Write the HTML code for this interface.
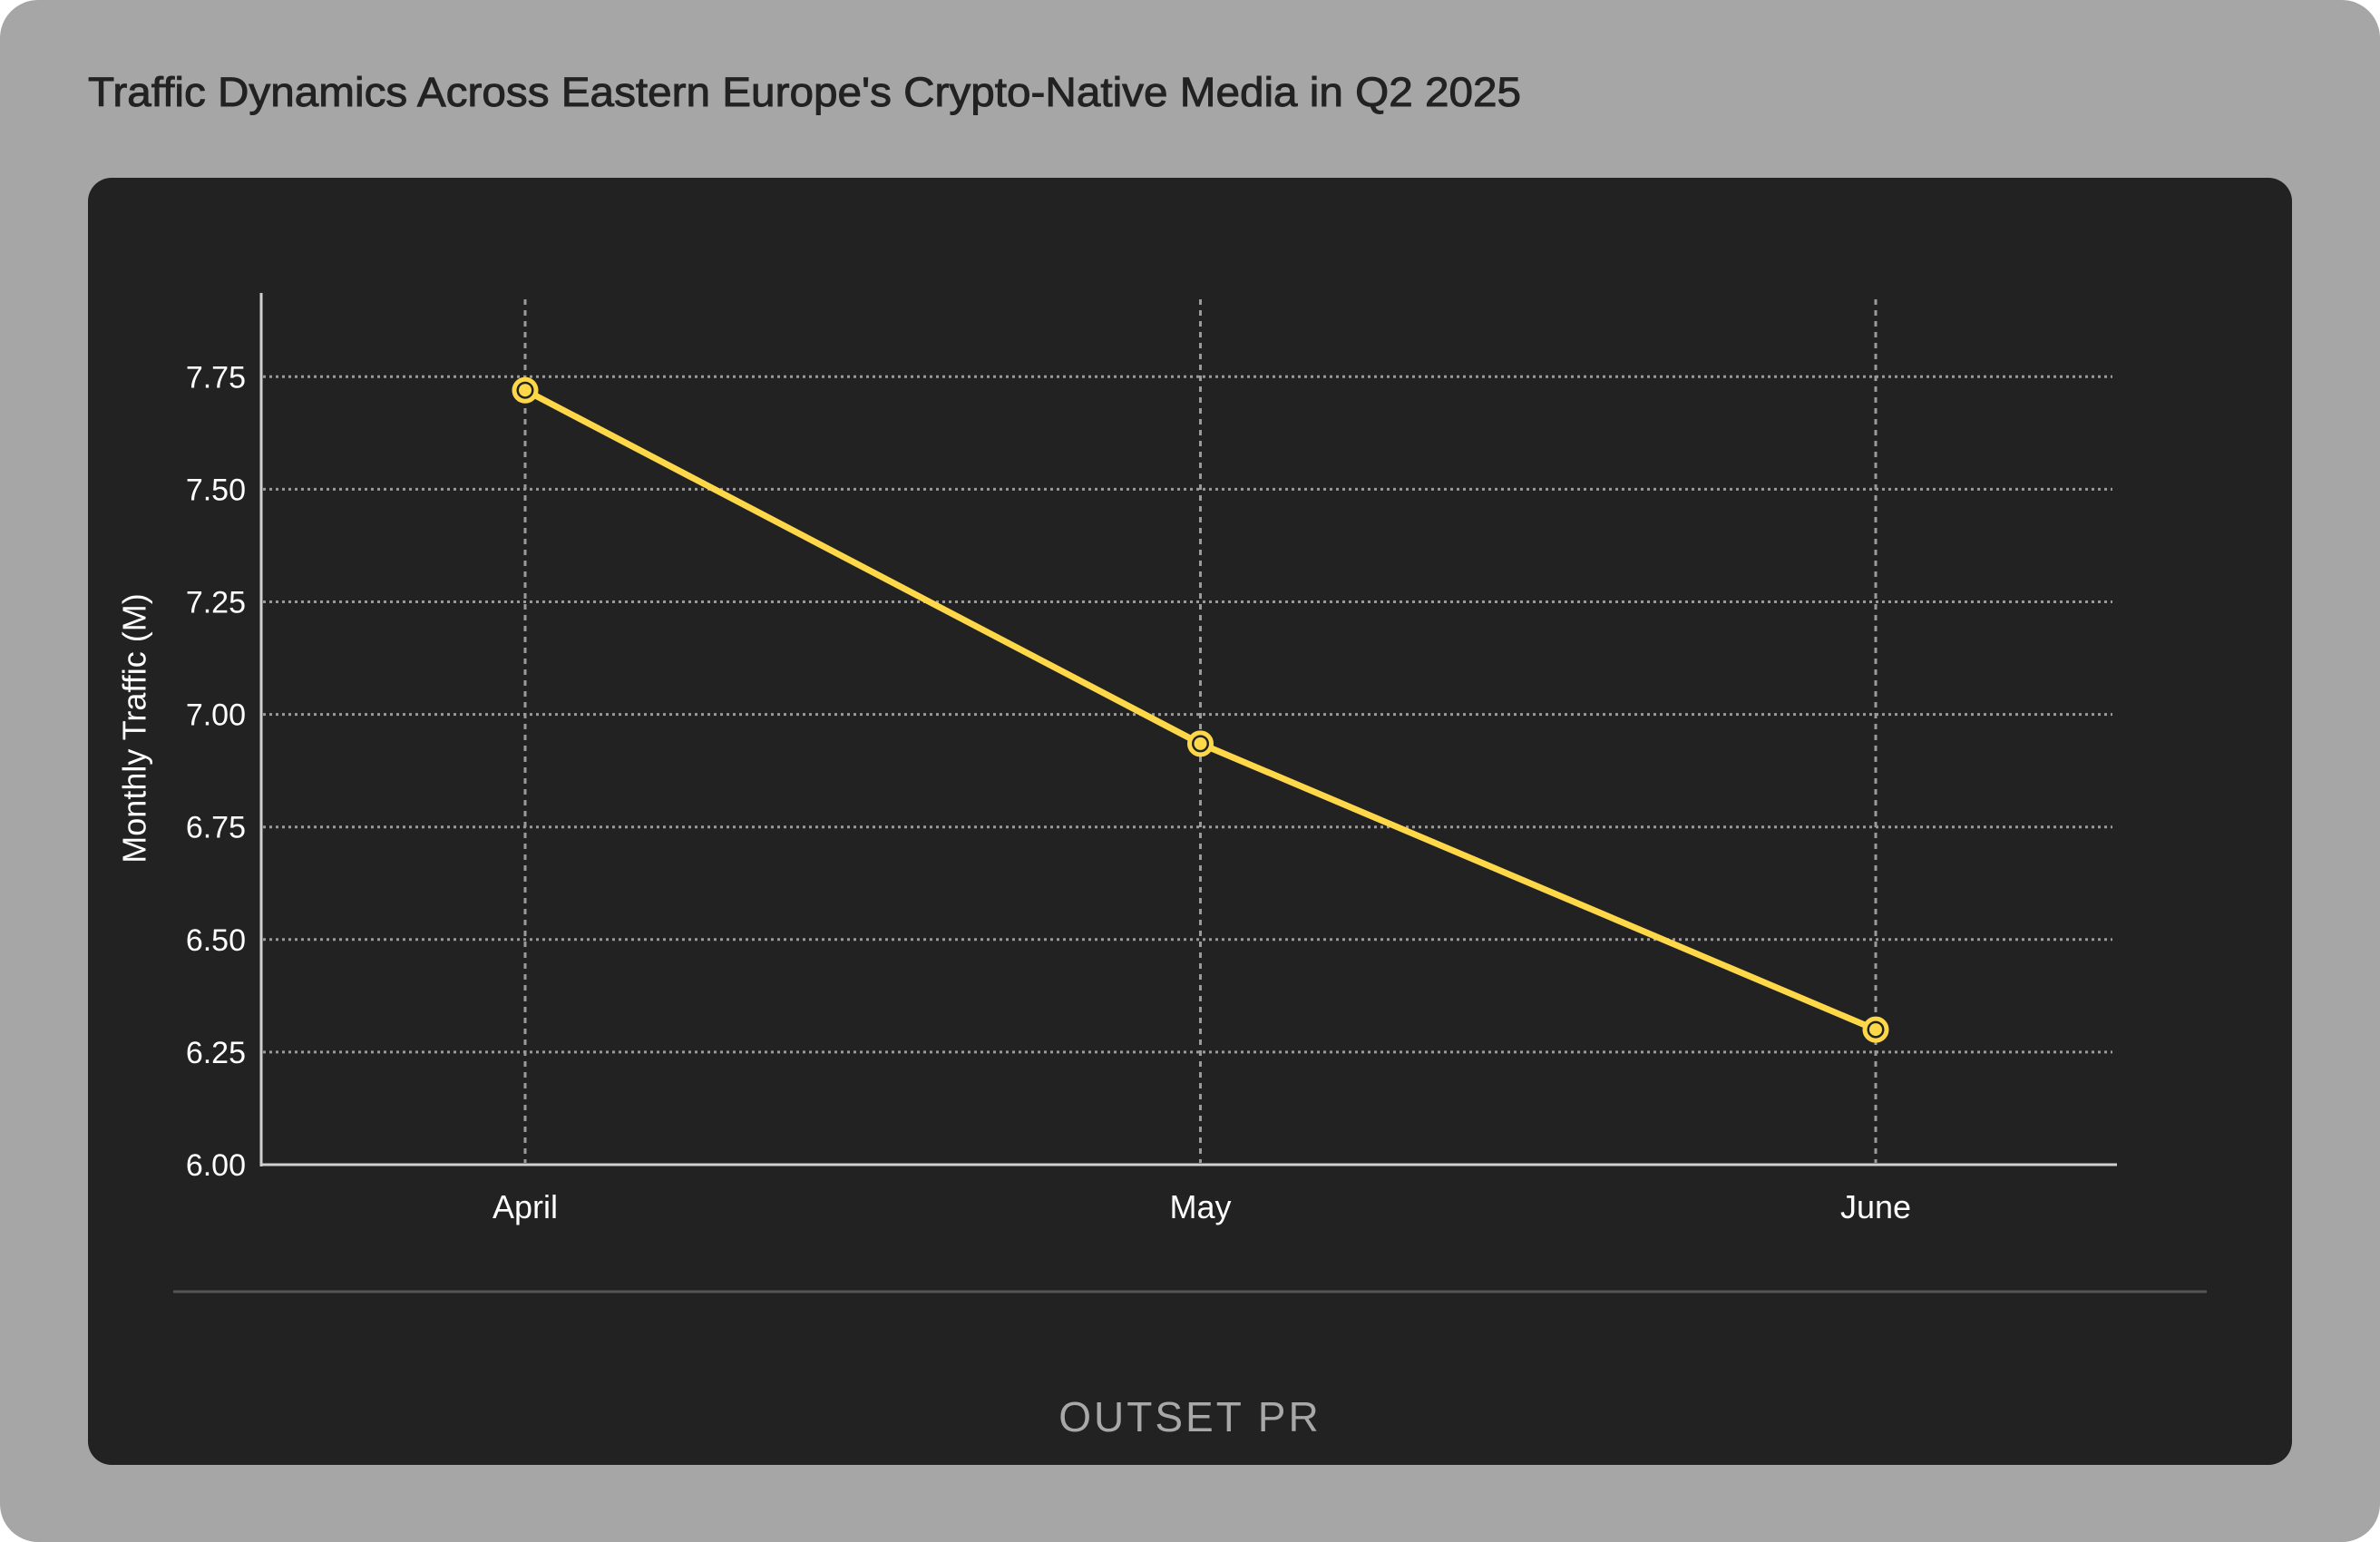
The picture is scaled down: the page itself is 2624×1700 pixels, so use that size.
<!DOCTYPE html>
<html><head><meta charset="utf-8"><style>
html,body{margin:0;padding:0;background:#fff;}
svg{display:block;font-family:"Liberation Sans",Arial,sans-serif;}
</style></head><body>
<svg id="chart" width="2624" height="1700" viewBox="0 0 2624 1700">
<rect x="0" y="0" width="2624" height="1700" rx="42" fill="#a6a6a6"/>
<text x="97" y="117" font-size="45" fill="#222" stroke="#222" stroke-width="0.9" textLength="1580" lengthAdjust="spacingAndGlyphs">Traffic Dynamics Across Eastern Europe's Crypto-Native Media in Q2 2025</text>
<rect x="97" y="196" width="2430" height="1419" rx="26" fill="#222222"/>
<g id="grid"></g>
<g id="axes"></g>
<g id="series"></g>
<text x="151" y="803" font-size="36" fill="#fff" text-anchor="middle" transform="rotate(-90 151 803)" dominant-baseline="middle">Monthly Traffic (M)</text>
<line x1="191" y1="1424" x2="2433" y2="1424" stroke="#555" stroke-width="3"/>
<text x="1312" y="1578" font-size="46" fill="#a8a8a8" text-anchor="middle" letter-spacing="3">OUTSET PR</text>
</svg>
<script>
const categories = ["April", "May", "June"];
const trafficValues = [7.72, 6.935, 6.30];
const yTickValues = [6.00, 6.25, 6.50, 6.75, 7.00, 7.25, 7.50, 7.75];
const yTickLabels = ["6.00", "6.25", "6.50", "6.75", "7.00", "7.25", "7.50", "7.75"];

const NS = "http://www.w3.org/2000/svg";
function xScale(i) { return 579 + i * (2068 - 579) / (categories.length - 1); }
function yScale(v) { return 1284 - (v - 6) * 496.4; }
function mk(tag, attrs, parent) {
  const e = document.createElementNS(NS, tag);
  for (const k in attrs) e.setAttribute(k, attrs[k]);
  parent.appendChild(e);
  return e;
}
const grid = document.getElementById("grid");
const axes = document.getElementById("axes");
const series = document.getElementById("series");

yTickValues.forEach((v, i) => {
  const y = yScale(v);
  if (i > 0) {
    const gl = mk("line", {x1: 290, x2: 2329, y1: y, y2: y, stroke: "#9a9a9a", "stroke-width": 3, "stroke-dasharray": "3 4"}, grid);
    
    
  }
  const t = mk("text", {x: 271, y: y + 12, "font-size": 34, fill: "#fff", "text-anchor": "end"}, axes);
  t.textContent = yTickLabels[i];
  
  
});
categories.forEach((c, i) => {
  const x = xScale(i);
  const vl = mk("line", {x1: x, x2: x, y1: 330, y2: 1282, stroke: "#9a9a9a", "stroke-width": 3, "stroke-dasharray": "6 6"}, grid);
  
  
  const t = mk("text", {x: x, y: 1343, "font-size": 36, fill: "#fff", "text-anchor": "middle"}, axes);
  t.textContent = c;
  
  
});
const ya = mk("line", {x1: 288, x2: 288, y1: 323, y2: 1286, stroke: "#d0d0d0", "stroke-width": 3}, axes);


const xa = mk("line", {x1: 287, x2: 2334, y1: 1284, y2: 1284, stroke: "#d0d0d0", "stroke-width": 3}, axes);



const pts = trafficValues.map((v, i) => xScale(i) + "," + yScale(v)).join(" ");
const pl = mk("polyline", {points: pts, fill: "none", stroke: "#ffd84a", "stroke-width": 7, "stroke-linejoin": "round"}, series);


trafficValues.forEach((v, i) => {
  const c = mk("circle", {cx: xScale(i), cy: yScale(v), r: 12, fill: "#222", stroke: "#ffd84a", "stroke-width": 5}, series);
  
  
  const d = mk("circle", {cx: xScale(i), cy: yScale(v), r: 7, fill: "#ffd84a"}, series);
  
  
});
</script>
</body></html>
